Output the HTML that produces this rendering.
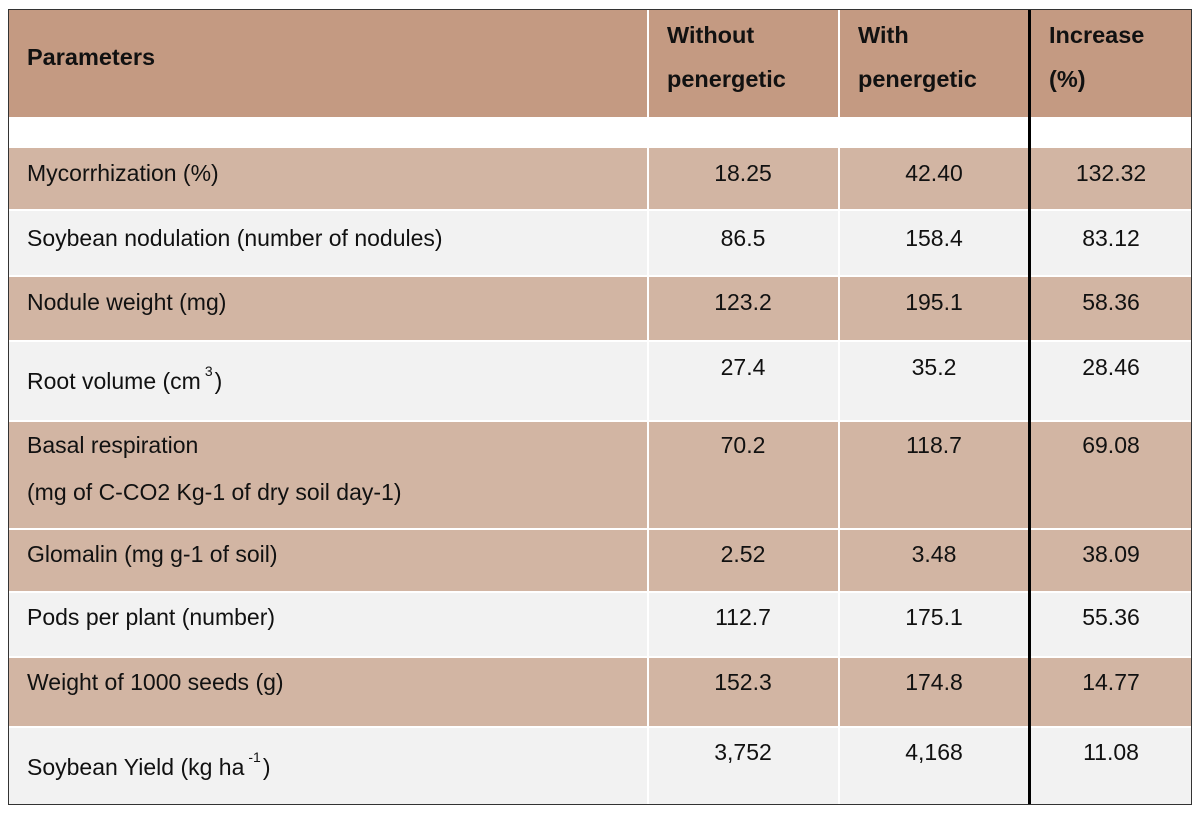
<!DOCTYPE html>
<html><head><meta charset="utf-8"><style>
body{margin:0;width:1200px;height:818px;background:#fff;position:relative;font-family:"Liberation Sans",Arial,sans-serif;color:#111;overflow:hidden}
.c{position:absolute;box-sizing:border-box}
.t{position:absolute;font-size:23px;line-height:26px;white-space:nowrap}
.h{font-weight:bold;font-size:23.5px}
.ctr{transform:translateX(-50%)}
sup{font-size:14px;position:relative;top:-10px;vertical-align:top;margin:0 2px 0 4px}
</style></head><body>
<div class="c" style="left:8px;top:9px;width:1184px;height:796px;border:1.5px solid #333;background:#fff"></div>
<div id="cells"></div>
<div class="c" style="left:1028px;top:9px;width:3px;height:796px;background:#000"></div>
<div class="c" style="left:8px;top:9px;width:1184px;height:796px;border:1.5px solid #333"></div>
<script>
const T='#d2b5a3',L='#f2f2f2';
const rows=[[9,117,'#c49a82'],[117,148,'#ffffff'],[148,209,T],[211,275,L],[277,340,T],[342,420,L],[422,528,T],[530,591,T],[593,656,L],[658,726,T],[728,805,L]];
const cols=[[9,647],[649,838],[840,1029],[1031,1191]];
const host=document.getElementById('cells');
rows.forEach((r,i)=>{cols.forEach((c,j)=>{
 const d=document.createElement('div');d.className='c';
 
 
 d.style.cssText=`left:${c[0]}px;top:${r[0]}px;width:${c[1]-c[0]}px;height:${r[1]-r[0]}px;background:${r[2]}`;
 host.appendChild(d);});});
</script>
<div class="t h" style="left:27px;top:44px">Parameters</div>
<div class="t h" style="left:667px;top:13px;line-height:44px">Without<br>penergetic</div>
<div class="t h" style="left:858px;top:13px;line-height:44px">With<br>penergetic</div>
<div class="t h" style="left:1049px;top:13px;line-height:44px">Increase<br>(%)</div>

<div class="t" style="left:27px;top:160px">Mycorrhization (%)</div>
<div class="t ctr" style="left:743px;top:160px">18.25</div>
<div class="t ctr" style="left:934px;top:160px">42.40</div>
<div class="t ctr" style="left:1111px;top:160px">132.32</div>

<div class="t" style="left:27px;top:225px">Soybean nodulation (number of nodules)</div>
<div class="t ctr" style="left:743px;top:225px">86.5</div>
<div class="t ctr" style="left:934px;top:225px">158.4</div>
<div class="t ctr" style="left:1111px;top:225px">83.12</div>

<div class="t" style="left:27px;top:289px">Nodule weight (mg)</div>
<div class="t ctr" style="left:743px;top:289px">123.2</div>
<div class="t ctr" style="left:934px;top:289px">195.1</div>
<div class="t ctr" style="left:1111px;top:289px">58.36</div>

<div class="t" style="left:27px;top:368px">Root volume (cm<sup>3</sup>)</div>
<div class="t ctr" style="left:743px;top:354px">27.4</div>
<div class="t ctr" style="left:934px;top:354px">35.2</div>
<div class="t ctr" style="left:1111px;top:354px">28.46</div>

<div class="t" style="left:27px;top:432px">Basal respiration</div>
<div class="t" style="left:27px;top:479px">(mg of C-CO2 Kg-1 of dry soil day-1)</div>
<div class="t ctr" style="left:743px;top:432px">70.2</div>
<div class="t ctr" style="left:934px;top:432px">118.7</div>
<div class="t ctr" style="left:1111px;top:432px">69.08</div>

<div class="t" style="left:27px;top:541px">Glomalin (mg g-1 of soil)</div>
<div class="t ctr" style="left:743px;top:541px">2.52</div>
<div class="t ctr" style="left:934px;top:541px">3.48</div>
<div class="t ctr" style="left:1111px;top:541px">38.09</div>

<div class="t" style="left:27px;top:604px">Pods per plant (number)</div>
<div class="t ctr" style="left:743px;top:604px">112.7</div>
<div class="t ctr" style="left:934px;top:604px">175.1</div>
<div class="t ctr" style="left:1111px;top:604px">55.36</div>

<div class="t" style="left:27px;top:669px">Weight of 1000 seeds (g)</div>
<div class="t ctr" style="left:743px;top:669px">152.3</div>
<div class="t ctr" style="left:934px;top:669px">174.8</div>
<div class="t ctr" style="left:1111px;top:669px">14.77</div>

<div class="t" style="left:27px;top:754px">Soybean Yield (kg ha<sup>-1</sup>)</div>
<div class="t ctr" style="left:743px;top:739px">3,752</div>
<div class="t ctr" style="left:934px;top:739px">4,168</div>
<div class="t ctr" style="left:1111px;top:739px">11.08</div>
</body></html>
